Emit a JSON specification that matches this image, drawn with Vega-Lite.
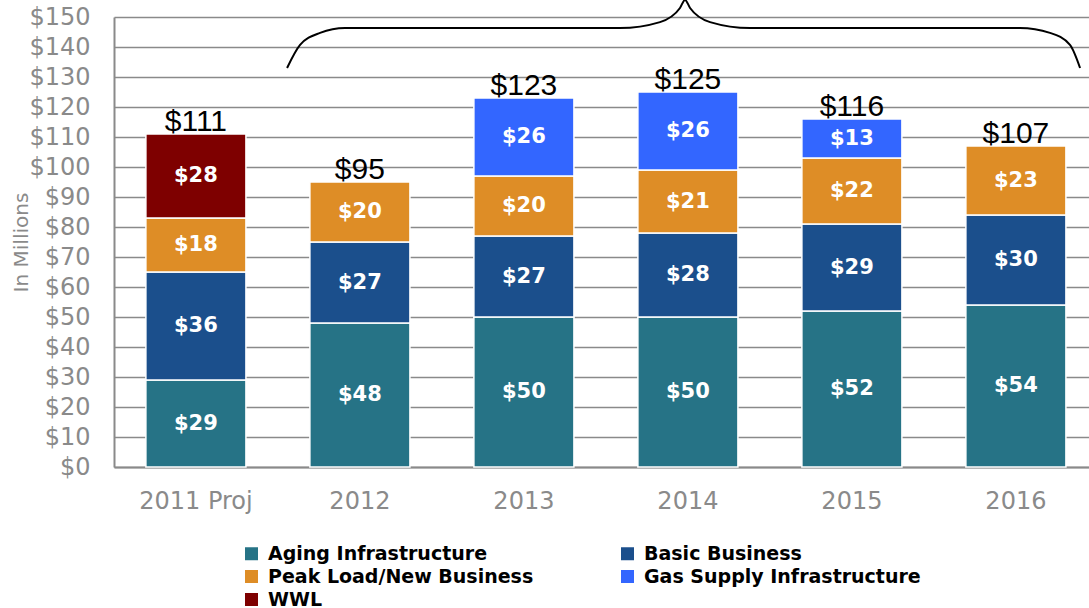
{
  "$schema": "https://vega.github.io/schema/vega-lite/v6.json",
  "width": 975,
  "height": 450,
  "autosize": {"type": "none"},
  "padding": {"left": 114, "top": 17, "right": 0, "bottom": 141},
  "background": "white",
  "config": {
    "view": {"stroke": null},
    "font": "DejaVu Sans",
    "axisY": {
      "titleFont": "DejaVu Sans",
      "titleFontSize": 20,
      "titleFontWeight": "normal",
      "titleColor": "#8a8a8a",
      "titlePadding": -3,
      "labelFont": "DejaVu Sans",
      "labelFontSize": 24,
      "labelColor": "#8a8a8a",
      "labelPadding": 24,
      "labelOverlap": false,
      "ticks": false,
      "grid": true,
      "gridColor": "#8a8a8a",
      "gridWidth": 1.5,
      "domainColor": "#8a8a8a",
      "domainWidth": 2
    }
  },
  "datasets": {
    "main": [
      {"year": "2011 Proj", "category": "Aging Infrastructure", "ord": 1, "value": 29},
      {"year": "2011 Proj", "category": "Basic Business", "ord": 2, "value": 36},
      {"year": "2011 Proj", "category": "Peak Load/New Business", "ord": 3, "value": 18},
      {"year": "2011 Proj", "category": "WWL", "ord": 4, "value": 28},
      {"year": "2012", "category": "Aging Infrastructure", "ord": 1, "value": 48},
      {"year": "2012", "category": "Basic Business", "ord": 2, "value": 27},
      {"year": "2012", "category": "Peak Load/New Business", "ord": 3, "value": 20},
      {"year": "2013", "category": "Aging Infrastructure", "ord": 1, "value": 50},
      {"year": "2013", "category": "Basic Business", "ord": 2, "value": 27},
      {"year": "2013", "category": "Peak Load/New Business", "ord": 3, "value": 20},
      {"year": "2013", "category": "Gas Supply Infrastructure", "ord": 4, "value": 26},
      {"year": "2014", "category": "Aging Infrastructure", "ord": 1, "value": 50},
      {"year": "2014", "category": "Basic Business", "ord": 2, "value": 28},
      {"year": "2014", "category": "Peak Load/New Business", "ord": 3, "value": 21},
      {"year": "2014", "category": "Gas Supply Infrastructure", "ord": 4, "value": 26},
      {"year": "2015", "category": "Aging Infrastructure", "ord": 1, "value": 52},
      {"year": "2015", "category": "Basic Business", "ord": 2, "value": 29},
      {"year": "2015", "category": "Peak Load/New Business", "ord": 3, "value": 22},
      {"year": "2015", "category": "Gas Supply Infrastructure", "ord": 4, "value": 13},
      {"year": "2016", "category": "Aging Infrastructure", "ord": 1, "value": 54},
      {"year": "2016", "category": "Basic Business", "ord": 2, "value": 30},
      {"year": "2016", "category": "Peak Load/New Business", "ord": 3, "value": 23}
    ],
    "brace": [
      {"bx": 1.065, "by": 133},
      {"bx": 1.145, "by": 140.7},
      {"bx": 1.268, "by": 144.7},
      {"bx": 1.422, "by": 146.3},
      {"bx": 3.114, "by": 146.3},
      {"bx": 3.36, "by": 148.3},
      {"bx": 3.483, "by": 153},
      {"bx": 3.514, "by": 155.7},
      {"bx": 3.545, "by": 153},
      {"bx": 3.668, "by": 148.3},
      {"bx": 3.914, "by": 146.3},
      {"bx": 5.575, "by": 146.3},
      {"bx": 5.76, "by": 144.7},
      {"bx": 5.883, "by": 140.7},
      {"bx": 5.945, "by": 133}
    ]
  },
  "layer": [
    {
      "data": {"name": "main"},
      "encoding": {
        "x": {
          "field": "year",
          "type": "nominal",
          "sort": null,
          "scale": {"paddingInner": 0.39, "paddingOuter": 0.1676, "align": 0.58},
          "axis": {
            "title": null,
            "labelAngle": 0,
            "labelFont": "DejaVu Sans",
            "labelFontSize": 24,
            "labelColor": "#8a8a8a",
            "labelPadding": 22,
            "ticks": false,
            "domainColor": "#8a8a8a",
            "domainWidth": 2
          }
        }
      },
      "layer": [
        {
          "mark": {"type": "bar", "stroke": "white", "strokeWidth": 1.5},
          "encoding": {
            "y": {
              "field": "value",
              "type": "quantitative",
              "stack": "zero",
              "scale": {"domain": [0, 150], "nice": false},
              "axis": {"title": "In Millions", "values": [0, 10, 20, 30, 40, 50, 60, 70, 80, 90, 100, 110, 120, 130, 140, 150], "format": "$d"}
            },
            "color": {
              "field": "category",
              "type": "nominal",
              "scale": {
                "domain": ["Aging Infrastructure", "Basic Business", "Peak Load/New Business", "Gas Supply Infrastructure", "WWL"],
                "range": ["#267386", "#1b4f8c", "#de8d26", "#3366ff", "#7e0000"]
              },
              "legend": {
                "title": null,
                "orient": "none",
                "direction": "horizontal",
                "legendX": 128,
                "legendY": 527,
                "columns": 2,
                "columnPadding": 84,
                "rowPadding": 3,
                "symbolType": "square",
                "symbolSize": 169,
                "symbolStrokeWidth": 0,
                "labelFont": "DejaVu Sans",
                "labelFontSize": 19,
                "labelFontWeight": "bold",
                "labelColor": "black",
                "labelOffset": 7,
                "labelLimit": 400
              }
            },
            "order": {"field": "ord", "type": "quantitative"}
          }
        },
        {
          "transform": [
            {"stack": "value", "groupby": ["year"], "sort": [{"field": "ord"}], "as": ["y0", "y1"]},
            {"calculate": "(datum.y0 + datum.y1) / 2", "as": "mid"}
          ],
          "mark": {"type": "text", "color": "white", "font": "DejaVu Sans", "fontSize": 21, "fontWeight": "bold", "baseline": "middle"},
          "encoding": {
            "y": {
              "field": "mid",
              "type": "quantitative",
              "scale": {"domain": [0, 150], "nice": false},
              "axis": {"title": "In Millions", "values": [0, 10, 20, 30, 40, 50, 60, 70, 80, 90, 100, 110, 120, 130, 140, 150], "format": "$d"}
            },
            "text": {"field": "value", "type": "quantitative", "format": "$d"}
          }
        },
        {
          "transform": [
            {"aggregate": [{"op": "sum", "field": "value", "as": "total"}], "groupby": ["year"]}
          ],
          "mark": {"type": "text", "color": "black", "font": "Liberation Sans", "fontSize": 30, "baseline": "alphabetic", "dy": -3},
          "encoding": {
            "y": {
              "field": "total",
              "type": "quantitative",
              "scale": {"domain": [0, 150], "nice": false},
              "axis": {"title": "In Millions", "values": [0, 10, 20, 30, 40, 50, 60, 70, 80, 90, 100, 110, 120, 130, 140, 150], "format": "$d"}
            },
            "text": {"field": "total", "type": "quantitative", "format": "$d"}
          }
        }
      ]
    },
    {
      "data": {"name": "brace"},
      "mark": {"type": "line", "color": "black", "strokeWidth": 2, "interpolate": "monotone", "clip": false},
      "encoding": {
        "x": {"field": "bx", "type": "quantitative", "scale": {"domain": [0, 6], "nice": false}, "axis": null},
        "y": {
          "field": "by",
          "type": "quantitative",
          "scale": {"domain": [0, 150], "nice": false},
          "axis": {"title": "In Millions", "values": [0, 10, 20, 30, 40, 50, 60, 70, 80, 90, 100, 110, 120, 130, 140, 150], "format": "$d"}
        }
      }
    }
  ],
  "resolve": {"scale": {"x": "independent"}}
}
